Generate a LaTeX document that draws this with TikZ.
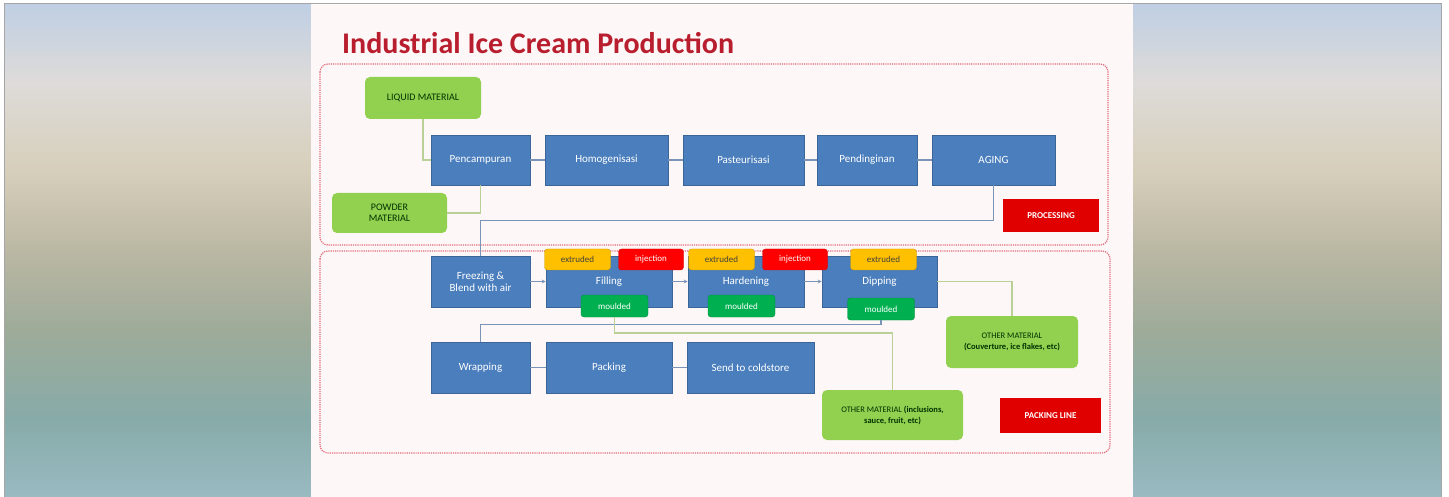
\documentclass[tikz,border=0pt]{standalone}
\usepackage{fontspec}
\setmainfont{Carlito}
\usetikzlibrary{arrows.meta,calc}
\definecolor{bluebox}{HTML}{4A7EBD}
\definecolor{greenbox}{HTML}{92D050}
\definecolor{greenlab}{HTML}{00B050}
\definecolor{yellowlab}{HTML}{FFC000}
\definecolor{redlab}{HTML}{FF0000}
\definecolor{redtag}{HTML}{E00000}
\definecolor{titlered}{HTML}{B81E2E}
\definecolor{dotred}{HTML}{E06A7A}
\definecolor{flowline}{HTML}{7A94B8}
\definecolor{matline}{HTML}{B9D096}
\definecolor{slidebg}{HTML}{FDF7F8}
\pgfdeclareverticalshading{sidegrad}{100bp}{%
  color(0bp)=(rgb,1:red,0.60;green,0.73;blue,0.76);
  color(25bp)=(rgb,1:red,0.60;green,0.73;blue,0.76);
  color(33bp)=(rgb,1:red,0.53;green,0.67;blue,0.66);
  color(42bp)=(rgb,1:red,0.62;green,0.67;blue,0.60);
  color(50bp)=(rgb,1:red,0.73;green,0.72;blue,0.64);
  color(58bp)=(rgb,1:red,0.84;green,0.81;blue,0.73);
  color(67bp)=(rgb,1:red,0.87;green,0.86;blue,0.85);
  color(75bp)=(rgb,1:red,0.75;green,0.81;blue,0.89);
  color(100bp)=(rgb,1:red,0.75;green,0.81;blue,0.89)}
\tikzset{
  proc/.style={fill=bluebox, draw=bluebox!80!black, line width=0.6pt, text=white,
    font=\fontsize{11}{12}\selectfont, inner sep=1pt, align=center},
  mat/.style={fill=greenbox, rounded corners=5pt, text=black!80!green,
    font=\fontsize{10}{11}\selectfont, inner sep=1pt, align=center},
  tagy/.style={fill=yellowlab, draw=yellowlab!80!black, rounded corners=3pt, text=black!75,
    font=\fontsize{9}{10}\selectfont, minimum width=66pt, minimum height=21pt, inner sep=1pt},
  tagr/.style={fill=redlab, draw=redlab!85!black, rounded corners=3pt, text=white,
    font=\fontsize{9}{10}\selectfont, minimum width=65pt, minimum height=21pt, inner sep=1pt},
  tagg/.style={fill=greenlab, draw=greenlab!80!black, rounded corners=3pt, text=white,
    font=\fontsize{9}{10}\selectfont, minimum width=67pt, minimum height=22pt, inner sep=1pt},
  sect/.style={fill=redtag, text=white, font=\bfseries\fontsize{9}{10}\selectfont, inner sep=1pt},
  zone/.style={draw=dotred, densely dotted, line width=1.2pt, rounded corners=8pt},
  flow/.style={draw=flowline, line width=1.4pt},
  flowarr/.style={flow, -{Stealth[length=4pt,width=4pt]}},
  matl/.style={draw=matline, line width=1.4pt}
}
\begin{document}
\begin{tikzpicture}[x=1pt,y=-1pt]
\useasboundingbox (0,0) rectangle (1449,497);
\fill[white] (0,0) rectangle (1449,497);
% side panels
\shade[shading=sidegrad] (5,4) rectangle (311,497);
\shade[shading=sidegrad] (1133,4) rectangle (1441,497);
\draw[black!35, line width=1.2pt] (4.5,497) -- (4.5,3.5) -- (1441.5,3.5) -- (1441.5,497);
% slide
\fill[slidebg] (311,5) rectangle (1133,497);
% title
\node[anchor=west, text=titlered, font=\bfseries\fontsize{30}{32}\selectfont, inner sep=0pt] (title) at (342,43) {Industrial Ice Cream Production};
% zones
\draw[zone] (320,64) rectangle (1108,245);
\draw[zone] (320,251) rectangle (1110,453);
% row 1
\node[proc, minimum width=99pt, minimum height=50pt] (pen) at (480.5,160) {Pencampuran};
\node[proc, minimum width=123pt, minimum height=50pt] (hom) at (606.5,160) {Homogenisasi};
\node[proc, minimum width=121pt, minimum height=50pt] (pas) at (743.5,160) {Pasteurisasi};
\node[proc, minimum width=100pt, minimum height=50pt] (pend) at (867,160) {Pendinginan};
\node[proc, minimum width=123pt, minimum height=50pt] (aging) at (993.5,160) {AGING};
\node[mat, minimum width=116pt, minimum height=42pt] (liq) at (423,98) {LIQUID MATERIAL};
\node[mat, minimum width=115pt, minimum height=40pt] (pow) at (389.5,213) {POWDER\\MATERIAL};
\node[sect, minimum width=96pt, minimum height=33pt] (procl) at (1051,215.5) {PROCESSING};
% row 2
\node[proc, minimum width=99pt, minimum height=51pt] (frz) at (480.5,281.5) {Freezing \&\\Blend with air};
\node[proc, minimum width=126pt, minimum height=51pt] (fill) at (609,281.5) {Filling};
\node[proc, minimum width=116pt, minimum height=51pt] (hard) at (746,281.5) {Hardening};
\node[proc, minimum width=115pt, minimum height=51pt] (dip) at (879.5,281.5) {Dipping};
\node[tagy] (ext1) at (577.5,259.5) {extruded};
\node[tagr] (inj1) at (651,259.5) {injection};
\node[tagy] (ext2) at (721.5,259.5) {extruded};
\node[tagr] (inj2) at (795,259.5) {injection};
\node[tagy] (ext3) at (883.5,259.5) {extruded};
\node[tagg] (mou1) at (614.5,306) {moulded};
\node[tagg] (mou2) at (741.5,306) {moulded};
\node[tagg] (mou3) at (881,309) {moulded};
% row 3
\node[proc, minimum width=99pt, minimum height=51pt] (wrap) at (480.5,367.5) {Wrapping};
\node[proc, minimum width=126pt, minimum height=51pt] (pack) at (609,367.5) {Packing};
\node[proc, minimum width=127pt, minimum height=51pt] (send) at (750.5,367.5) {Send to coldstore};
\node[mat, minimum width=132pt, minimum height=52pt, font=\fontsize{8.5}{11}\selectfont] (oth1) at (1012,342) {OTHER MATERIAL\\\textbf{(Couverture, ice flakes, etc)}};
\node[mat, minimum width=141pt, minimum height=50pt, font=\fontsize{8.5}{11}\selectfont] (oth2) at (892.5,415) {OTHER MATERIAL \textbf{(inclusions,}\\\textbf{sauce, fruit, etc)}};
\node[sect, minimum width=101pt, minimum height=35pt] (packl) at (1050.5,415.5) {PACKING LINE};
% connectors
\draw[matl] (liq.south) |- (pen.west);
\draw[matl] (pen.south) |- (pow.east);
\draw[flow] (pen) -- (hom);
\draw[flow] (hom) -- (pas);
\draw[flow] (pas) -- (pend);
\draw[flow] (pend) -- (aging);
\draw[flow] (aging.south) -- ++(0,35) -| (frz.north);
\draw[flowarr] (frz) -- (fill);
\draw[flowarr] (fill) -- (hard);
\draw[flowarr] (hard) -- (dip);
\draw[flow] (mou3.south) -- ++(0,4) -| (wrap.north);
\draw[flow] (wrap) -- (pack);
\draw[flow] (pack) -- (send);
\draw[matl] (dip.east) -| (oth1.north);
\draw[matl] (oth2.north) -- ++(0,-57) -| (mou1.south);
\end{tikzpicture}
\end{document}
